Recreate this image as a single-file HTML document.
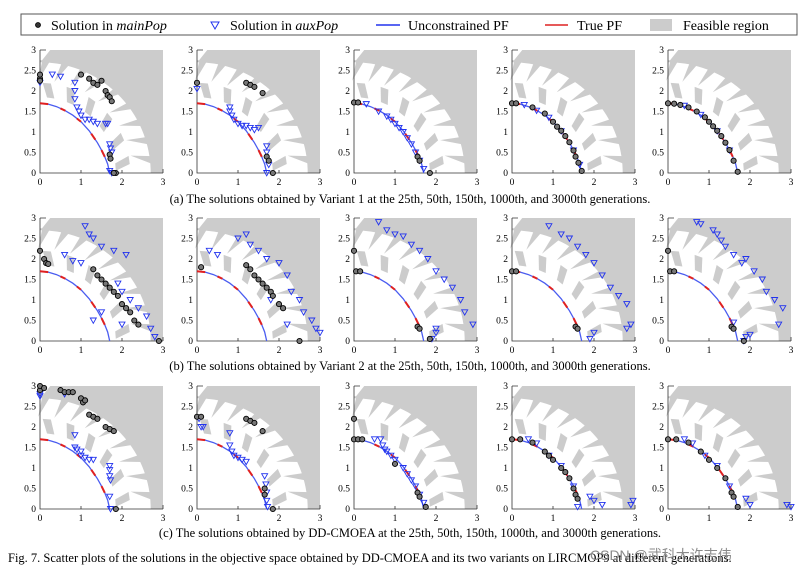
<!DOCTYPE html>
<html><head><meta charset="utf-8">
<style>
body{margin:0;background:#fff;}
svg{display:block;font-family:"Liberation Serif",serif;}
</style></head>
<body>
<svg id="fig" width="802" height="576" viewBox="0 0 802 576">
<g id="legend">
<rect x="21" y="14" width="776" height="21" fill="#fff" stroke="#555" stroke-width="1"/>
<g>
<circle cx="38" cy="25" r="2.5" fill="#333" stroke="#000" stroke-width="0.8"/>
<text x="51" y="30" font-size="14">Solution in <tspan font-style="italic">mainPop</tspan></text></g>
<g>
<path d="M211,22 L219,22 L215,29 Z" fill="none" stroke="#2233ee" stroke-width="1"/>
<text x="230" y="30" font-size="14">Solution in <tspan font-style="italic">auxPop</tspan></text></g>
<g>
<line x1="376" y1="25" x2="400" y2="25" stroke="#2233ee" stroke-width="1.5"/>
<text x="408" y="30" font-size="14">Unconstrained PF</text></g>
<g>
<line x1="545" y1="25" x2="568" y2="25" stroke="#dd2222" stroke-width="1.5"/>
<text x="577" y="30" font-size="14">True PF</text></g>
<g>
<rect x="650" y="19" width="22" height="12" fill="#cccccc"/>
<text x="683" y="30" font-size="14">Feasible region</text></g>
</g>
<g id="panels"></g>
<text x="410" y="203" font-size="12.5" text-anchor="middle">(a) The solutions obtained by Variant 1 at the 25th, 50th, 150th, 1000th, and 3000th generations.</text>
<text x="410" y="370" font-size="12.5" text-anchor="middle">(b) The solutions obtained by Variant 2 at the 25th, 50th, 150th, 1000th, and 3000th generations.</text>
<text x="410" y="537" font-size="12.5" text-anchor="middle">(c) The solutions obtained by DD-CMOEA at the 25th, 50th, 150th, 1000th, and 3000th generations.</text>
<text x="8" y="562" font-size="12.5">Fig. 7.   Scatter plots of the solutions in the objective space obtained by DD-CMOEA and its two variants on LIRCMOP9 at different generations.</text>
<text x="590" y="560" font-size="14" fill="#8a8a8a" font-family="Liberation Sans, Noto Sans CJK SC, sans-serif">CSDN @武科大许志伟</text>
</svg>
<script>
const xTicks=[0,1,2,3];
const yTicks=[0,0.5,1,1.5,2,2.5,3];
const yTickLabels=["0","0.5","1","1.5","2","2.5","3"];
const pfX=[0,0.2,0.4,0.6,0.8,1.0,1.2,1.4,1.55,1.65,1.7];
const pfY=[1.7,1.68,1.62,1.53,1.41,1.25,1.03,0.74,0.47,0.22,0];
const trueSegs=[[0,0.2],[0.5,0.62],[0.9,1.0],[1.25,1.35],[1.5,1.58]];
const colX=[40,197,354,512,668];
const rowY=[173,341,509];
const mainPts=[
 [[[0,2.3],[0,2.4],[0,2.25],[1,2.4],[1.2,2.3],[1.3,2.2],[1.4,2.15],[1.5,2.25],[1.6,2],[1.65,1.9],[1.7,1.85],[1.75,1.75],[1.7,0.45],[1.72,0.35],[1.85,0],[1.8,0]],
  [[0,2.2],[1.2,2.2],[1.3,2.15],[1.4,2.1],[1.6,1.95],[1.7,0.4],[1.75,0.3],[1.85,0]],
  [[0,1.72],[0.1,1.72],[1.55,0.4],[1.6,0.3],[1.85,0]],
  [[0,1.7],[0.1,1.7],[0.5,1.6],[0.8,1.45],[1.0,1.25],[1.1,1.13],[1.2,1.03],[1.3,0.9],[1.4,0.75],[1.5,0.55],[1.55,0.4],[1.62,0.25],[1.7,0.05]],
  [[0,1.7],[0.15,1.69],[0.3,1.66],[0.5,1.6],[0.7,1.5],[0.9,1.36],[1.0,1.25],[1.1,1.14],[1.2,1.03],[1.3,0.9],[1.4,0.74],[1.5,0.56],[1.6,0.3],[1.7,0.03]]],
 [[[0,2.2],[0.1,2.0],[0.15,1.9],[0.2,1.88],[1.3,1.75],[1.4,1.6],[1.5,1.5],[1.6,1.4],[1.7,1.3],[1.8,1.2],[1.9,1.1],[2.0,0.9],[2.1,0.8],[2.2,0.7],[2.3,0.5],[2.4,0.4],[2.9,0]],
  [[0.1,1.8],[1.2,1.85],[1.3,1.75],[1.4,1.6],[1.5,1.5],[1.6,1.4],[1.7,1.3],[1.8,1.2],[1.85,1.1],[2.0,0.9],[2.1,0.8],[2.5,0]],
  [[0,2.2],[0.05,1.7],[0.15,1.7],[1.55,0.35],[1.6,0.3],[1.85,0.05]],
  [[0,1.7],[0.1,1.7],[1.55,0.35],[1.6,0.3]],
  [[0,2.2],[0.05,1.7],[0.15,1.7],[1.55,0.35],[1.6,0.3],[1.85,0]]],
 [[[0,2.9],[0,3.0],[0.1,2.95],[0.5,2.9],[0.6,2.85],[0.7,2.85],[0.8,2.85],[1.0,2.7],[1.05,2.6],[1.1,2.65],[1.2,2.3],[1.3,2.25],[1.4,2.2],[1.6,2.0],[1.7,1.95],[1.8,1.9],[1.85,0]],
  [[0,2.25],[0.1,2.25],[1.2,2.2],[1.3,2.15],[1.4,2.1],[1.6,1.9],[1.65,0.5],[1.65,0.35],[1.85,0]],
  [[0,2.2],[0,1.7],[0.1,1.7],[0.2,1.7],[1.0,1.1],[1.55,0.4],[1.6,0.3],[1.75,0.05]],
  [[0,1.7],[0.2,1.7],[0.5,1.62],[0.8,1.4],[0.9,1.3],[1.0,1.2],[1.2,1.0],[1.3,0.9],[1.4,0.75],[1.5,0.5],[1.55,0.35],[1.6,0.25]],
  [[0,1.7],[0.2,1.7],[0.5,1.62],[0.8,1.4],[1.0,1.2],[1.2,1.0],[1.4,0.75],[1.55,0.4],[1.6,0.3],[1.7,0.05]]]
];
const auxPts=[
 [[[0,2.2],[0.3,2.4],[0.5,2.35],[0.85,2.2],[0.85,2.0],[0.85,1.8],[0.9,1.6],[0.95,1.5],[1,1.4],[1.1,1.3],[1.2,1.3],[1.3,1.25],[1.4,1.2],[1.6,1.2],[1.65,1.2],[1.7,0.7],[1.72,0.6],[1.75,0.5],[1.7,0.05],[1.75,0]],
  [[0,2.05],[0.8,1.6],[0.8,1.5],[0.85,1.4],[0.9,1.3],[1,1.2],[1.1,1.15],[1.2,1.15],[1.3,1.1],[1.4,1.05],[1.5,1.1],[1.7,0.65],[1.7,0.5],[1.75,0.2],[1.7,0]],
  [[0.3,1.68],[0.6,1.5],[0.8,1.38],[0.9,1.3],[1.0,1.2],[1.1,1.1],[1.2,1.0],[1.3,0.85],[1.4,0.7],[1.5,0.5],[1.6,0.3],[1.7,0.1]],
  [[0.3,1.66],[0.6,1.52],[0.9,1.35],[1.2,1.02],[1.5,0.55],[1.65,0.2]],
  [[0.4,1.64],[0.8,1.42],[1.2,1.02],[1.5,0.55]]],
 [[[0.6,2.1],[0.8,1.95],[1.0,1.9],[1.1,2.8],[1.2,2.6],[1.3,2.5],[1.5,2.3],[1.8,2.2],[2.1,2.1],[1.9,1.4],[2.0,1.2],[2.2,1.0],[2.4,0.8],[2.6,0.6],[2.7,0.3],[2.8,0.1],[1.5,0.7],[2.0,0.4],[1.3,0.5]],
  [[0.3,2.2],[0.5,2.1],[1.0,2.5],[1.2,2.6],[1.3,2.35],[1.5,2.2],[1.7,2.0],[2.0,1.9],[2.2,1.6],[2.3,1.2],[2.5,1.0],[2.6,0.7],[2.8,0.5],[2.9,0.3],[3.0,0.2],[1.8,1.0],[2.2,0.4]],
  [[0.6,2.9],[0.8,2.7],[1.0,2.6],[1.2,2.55],[1.4,2.35],[1.6,2.2],[1.8,2.0],[2.0,1.7],[2.2,1.5],[2.4,1.3],[2.6,1.0],[2.7,0.7],[2.9,0.4],[2.0,0.2],[1.9,0.05],[2.0,0.3]],
  [[0.9,2.8],[1.2,2.6],[1.4,2.5],[1.6,2.3],[1.8,2.1],[2.0,1.9],[2.2,1.6],[2.4,1.3],[2.6,1.1],[2.8,0.9],[2.9,0.4],[2.0,0.2],[1.9,0.05],[2.8,0.3]],
  [[0.7,2.9],[0.8,2.85],[1.1,2.7],[1.2,2.6],[1.3,2.45],[1.4,2.3],[1.6,2.1],[1.8,1.9],[1.9,2.0],[2.1,1.7],[2.3,1.5],[2.4,1.2],[2.6,1.0],[2.8,0.8],[2.7,0.4],[1.6,0.45],[1.9,0.1],[2.0,0.15],[1.85,0]]],
 [[[0,2.8],[0,2.75],[0.6,2.8],[0.85,1.8],[0.85,1.5],[0.9,1.45],[1.0,1.4],[1.0,1.3],[1.1,1.25],[1.2,1.2],[1.3,1.2],[1.7,1.05],[1.7,0.95],[1.7,0.8],[1.72,0.7],[1.7,0.3],[1.72,0]],
  [[0.05,2.2],[0.1,2.0],[0.15,2.0],[0.8,1.85],[0.8,1.55],[0.85,1.4],[0.9,1.3],[1.0,1.25],[1.1,1.2],[1.2,1.15],[1.65,0.8],[1.68,0.6],[1.7,0.4],[1.7,0.2],[1.72,0.05]],
  [[0.5,1.7],[0.65,1.7],[0.7,1.55],[0.75,1.45],[0.8,1.4],[0.9,1.3],[1.0,1.2],[1.2,1.0],[1.3,0.85],[1.4,0.7],[1.5,0.55],[1.6,0.35],[1.7,0.15]],
  [[0.4,1.7],[0.6,1.6],[0.9,1.3],[1.2,1.05],[1.5,0.55],[1.9,0.3],[2.0,0.2],[2.2,0.1],[2.9,0.1],[2.95,0.2],[1.6,0.05]],
  [[0.4,1.7],[0.6,1.6],[0.9,1.3],[1.2,1.05],[1.5,0.55],[1.9,0.25],[2.0,0.1],[2.9,0.1],[3.0,0.05]]]
];
const NS='http://www.w3.org/2000/svg';
const S=123/3;
function mk(tag,attrs,parent){const e=document.createElementNS(NS,tag);for(const k in attrs)e.setAttribute(k,attrs[k]);parent.appendChild(e);return e;}
const root=document.getElementById('panels');
for(let r=0;r<3;r++){for(let c=0;c<5;c++){
 const ox=colX[c],oy=rowY[r];
 const sx=v=>ox+v*S, sy=v=>oy-v*S;
 const P=(rr,a)=>sx(rr*Math.cos(a))+','+sy(rr*Math.sin(a));
 const g=mk('g',{},root);
 
 
 const bg=mk('rect',{x:sx(0),y:sy(3),width:123,height:123,fill:'#cccccc'},g);
 
 
 let pts=[sx(0)+','+sy(0), sx(2.7)+','+sy(0)];
 for(let i=0;i<=40;i++){pts.push(P(2.7,i/40*Math.PI/2));}
 pts.push(sx(0)+','+sy(3), sx(0.2)+','+sy(3), sx(0)+','+sy(2.6));
 const wp=mk('polygon',{points:sx(0)+','+sy(0)+' '+pts.slice(1).join(' ').replace(/ [^ ]+ [^ ]+ [^ ]+$/,''),fill:'#fff'},g);
 
 
 const tl=mk('polygon',{points:[sx(0)+','+sy(3),sx(0.25)+','+sy(3),sx(0.05)+','+sy(2.75),sx(0)+','+sy(2.75)].join(' '),fill:'#fff'},g);
 
 
 for(let k=0;k<9;k++){
  const a=0.08+k*0.175;
  const tp=mk('polygon',{points:[P(2.75,a),P(2.75,a+0.07),P(2.25,a+0.11)].join(' '),fill:'#cccccc'},g);
  
  
 }
 for(let k=0;k<6;k++){
  const a=0.1+k*0.27, w=0.07;
  const gp=mk('polygon',{points:[P(1.85,a-w),P(2.2,a),P(2.2,a+w*1.3),P(1.85,a+w*0.4)].join(' '),fill:'#cccccc'},g);
  
  
 }
 const ax=mk('path',{d:`M${sx(0)},${sy(3)} L${sx(0)},${sy(0)} L${sx(3)},${sy(0)}`,fill:'none',stroke:'#333','stroke-width':0.8},g);
 
 
 mk('path',{d:`M${sx(0)},${sy(3)} h6 M${sx(3)},${sy(0)} v-4 M${sx(1)},${sy(0)} v-3 M${sx(2)},${sy(0)} v-3`,stroke:'#333','stroke-width':0.8,fill:'none'},g);
 xTicks.forEach(t=>{const tx=mk('text',{x:sx(t),y:oy+12,'font-size':9.5,'text-anchor':'middle'},g);tx.textContent=t;
  
  });
 yTicks.forEach((t,i)=>{const ty=mk('text',{x:ox-4,y:sy(t)+3,'font-size':9.5,'text-anchor':'end'},g);ty.textContent=yTickLabels[i];
  
  });
 const pf=mk('polyline',{points:pfX.map((x,i)=>sx(x)+','+sy(pfY[i])).join(' '),fill:'none',stroke:'#4a5cf0','stroke-width':1.3},g);
 
 
 const interp=x=>{for(let i=0;i<pfX.length-1;i++){if(x<=pfX[i+1]){const t=(x-pfX[i])/(pfX[i+1]-pfX[i]);return pfY[i]+t*(pfY[i+1]-pfY[i]);}}return 0;};
 trueSegs.forEach(s=>{const l=mk('line',{x1:sx(s[0]),y1:sy(interp(s[0])),x2:sx(s[1]),y2:sy(interp(s[1])),stroke:'#e02020','stroke-width':2},g);
  
  });
 auxPts[r][c].forEach(p=>{const x=sx(p[0]),y=sy(p[1]);
  const t=mk('path',{d:`M${x-3},${y-2.5} L${x+3},${y-2.5} L${x},${y+2.8} Z`,fill:'none',stroke:'#2233ee','stroke-width':0.9},g);
  
  });
 mainPts[r][c].forEach(p=>{const ci=mk('circle',{cx:sx(p[0]),cy:sy(p[1]),r:2.6,fill:'#777',stroke:'#000','stroke-width':0.9},g);
  
  });
}}
</script>
</body></html>
